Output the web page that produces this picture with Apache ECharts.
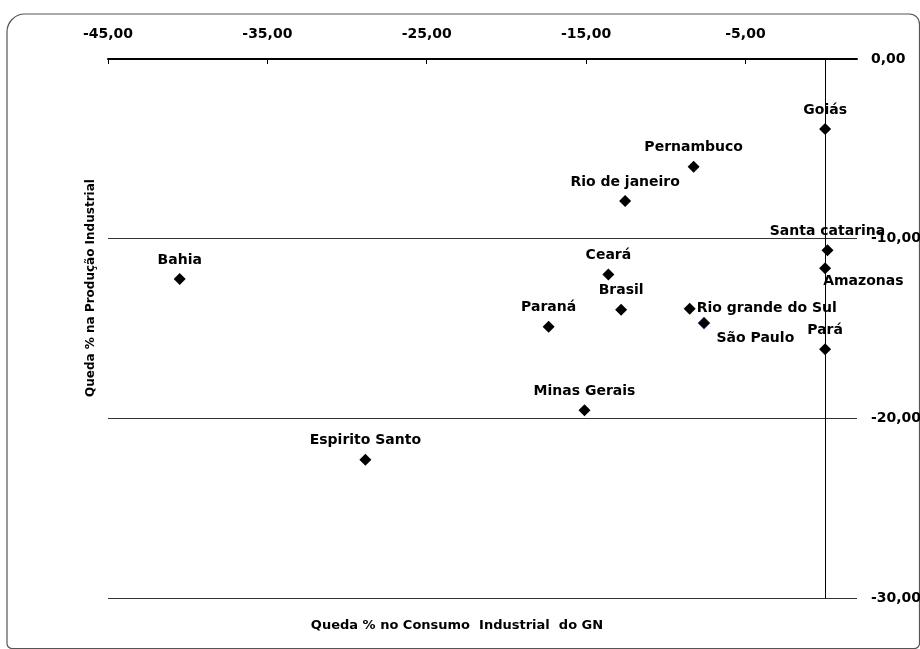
<!DOCTYPE html>
<html>
<head>
<meta charset="utf-8">
<script src="https://cdn.jsdelivr.net/npm/echarts@6/dist/echarts.min.js"></script>
<style>
	html, body { margin: 0; padding: 0; background: #fff; }
	#chart { width: 920px; height: 649px; }
</style>
</head>
<body>
<div id="chart"></div>
<script>
var estados = ['Goiás', 'Pernambuco', 'Rio de janeiro', 'Santa catarina', 'Amazonas', 'Bahia', 'Ceará',
	'Brasil', 'Rio grande do Sul', 'São Paulo', 'Paraná', 'Pará', 'Minas Gerais', 'Espirito Santo'];
var quedaConsumoGN = [0, -8.25, -12.55, 0.15, 0, -40.5, -13.6, -12.8, -8.5, -7.6, -17.35, 0, -15.1, -28.85];
var quedaProducao = [-3.9, -6.0, -7.9, -10.65, -11.65, -12.25, -12.0, -13.95, -13.9, -14.7, -14.9, -16.15, -19.55, -22.3];
var xTicks = [-45, -35, -25, -15, -5];

var FONT = 'DejaVu Sans';

// where each label sits relative to its marker (default: above)
var labelPos = {
	'Amazonas' : [4, 12],
	'Rio grande do Sul' : 'right',
	'São Paulo' : [19, 15]
};

function fmt(v) {
	return v.toFixed(2).replace('.', ',');
}

var pontos = [];
estados.forEach(function(nome, i) {
	var p = {
		name : nome,
		value : [quedaConsumoGN[i], quedaProducao[i]],
		label : {
			position : labelPos[nome] || 'top',
			distance : labelPos[nome] === 'right' ? 1 : 6
		}
	};
	if (nome === 'São Paulo') {
		p.itemStyle = { borderColor : '#5b4a8c', borderWidth : 1 };
	}
	pontos.push(p);
});

var option = {
	animation : false,
	backgroundColor : '#fff',
	grid : {
		left : 108,
		right : 63,
		top : 59,
		bottom : 51,
		outerBoundsMode : 'none'
	},
	xAxis : {
		type : 'value',
		position : 'top',
		min : -45,
		max : 2,
		axisLine : {
			onZero : false,
			lineStyle : { color : '#000', width : 2 }
		},
		axisTick : {
			customValues : xTicks,
			inside : true,
			length : 5,
			lineStyle : { color : '#000' }
		},
		axisLabel : {
			customValues : xTicks,
			margin : 18,
			color : '#000',
			fontFamily : FONT,
			fontWeight : 'bold',
			fontSize : 14,
			formatter : fmt
		},
		splitLine : { show : false }
	},
	yAxis : {
		type : 'value',
		position : 'right',
		min : -30,
		max : 0,
		interval : 10,
		axisLine : { show : false },
		axisTick : { show : false },
		axisLabel : {
			margin : 14,
			color : '#000',
			fontFamily : FONT,
			fontWeight : 'bold',
			fontSize : 14,
			formatter : fmt
		},
		splitLine : {
			lineStyle : { color : '#333', width : 1.2 }
		}
	},
	graphic : [ {
		type : 'rect',
		shape : { x : 7, y : 14, width : 912.5, height : 634.5, r : [ 18, 10, 5, 5 ] },
		style : { fill : null, stroke : '#555', lineWidth : 1.2 },
		silent : true
	}, {
		type : 'text',
		x : 457,
		y : 626,
		style : {
			text : 'Queda % no Consumo  Industrial  do GN',
			align : 'center',
			verticalAlign : 'middle',
			fill : '#000',
			font : 'bold 13px "DejaVu Sans"'
		}
	}, {
		type : 'text',
		x : 91,
		y : 288,
		rotation : Math.PI / 2,
		style : {
			text : 'Queda % na Produção Industrial',
			align : 'center',
			verticalAlign : 'middle',
			fill : '#000',
			font : 'bold 12px "DejaVu Sans"'
		}
	} ],
	series : [ {
		type : 'scatter',
		symbol : 'diamond',
		symbolSize : 12,
		itemStyle : { color : '#000', opacity : 1 },
		label : {
			show : true,
			formatter : '{b}',
			color : '#000',
			fontFamily : FONT,
			fontWeight : 'bold',
			fontSize : 14
		},
		markLine : {
			silent : true,
			symbol : 'none',
			label : { show : false },
			lineStyle : { color : '#000', width : 1, type : 'solid' },
			data : [ { xAxis : 0 } ]
		},
		data : pontos
	} ]
};

var chart = echarts.init(document.getElementById('chart'));
chart.setOption(option);
</script>
</body>
</html>
